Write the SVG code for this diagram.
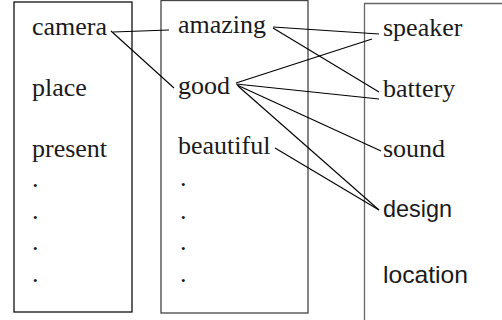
<svg xmlns="http://www.w3.org/2000/svg" width="502" height="320" viewBox="0 0 502 320">
<style>
.serif{font-family:"Liberation Serif","Times New Roman",serif;font-size:26px;fill:#1a1a1a}
.sans{font-family:"Liberation Sans",Arial,sans-serif;font-size:24px;fill:#1a1a1a}
.box{fill:#fff;stroke-width:1.3}
.conn line{stroke:#000;stroke-width:1.1}
</style>
<rect width="502" height="320" fill="#fff"/>
<g id="col-left">
<rect class="box" x="14" y="2" width="118" height="310" stroke="#111"/>
<text class="serif" x="32" y="35">camera</text>
<text class="serif" x="32" y="96">place</text>
<text class="serif" x="32" y="157">present</text>
<text class="serif" x="32" y="187">.</text>
<text class="serif" x="32" y="219">.</text>
<text class="serif" x="32" y="250">.</text>
<text class="serif" x="32" y="282">.</text>
</g>
<g id="col-mid">
<rect class="box" x="161" y="0.5" width="147" height="312.5" stroke="#444"/>
<text class="serif" x="178" y="33">amazing</text>
<text class="serif" x="178" y="94">good</text>
<text class="serif" x="178" y="154">beautiful</text>
<text class="serif" x="180" y="186">.</text>
<text class="serif" x="180" y="219">.</text>
<text class="serif" x="180" y="250">.</text>
<text class="serif" x="180" y="282">.</text>
</g>
<g id="col-right">
<path d="M364.5 322 V3.5 H503" fill="none" stroke="#666" stroke-width="1.3"/>
<text class="serif" x="383" y="36">speaker</text>
<text class="serif" x="383" y="97">battery</text>
<text class="serif" x="383" y="157">sound</text>
<text class="sans" x="383" y="217" textLength="69" lengthAdjust="spacingAndGlyphs">design</text>
<text class="sans" x="383" y="283" textLength="85" lengthAdjust="spacingAndGlyphs">location</text>
</g>
<g id="connectors" class="conn">
<line x1="113" y1="32" x2="169" y2="30"/>
<line x1="111" y1="31" x2="174" y2="88"/>
<line x1="273" y1="27" x2="379" y2="34"/>
<line x1="273" y1="28" x2="379" y2="92"/>
<line x1="236" y1="83" x2="372" y2="39"/>
<line x1="236" y1="84" x2="379" y2="99"/>
<line x1="237" y1="85" x2="381" y2="151"/>
<line x1="238" y1="86" x2="379" y2="210"/>
<line x1="275" y1="148" x2="379" y2="210"/>
</g>
</svg>
